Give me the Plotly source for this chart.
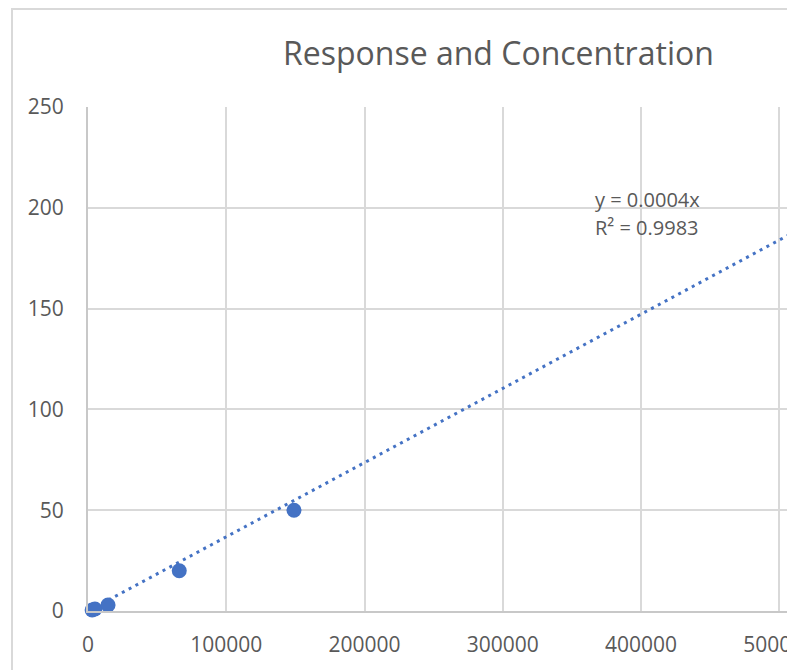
import plotly.graph_objects as go

# Data
concentration = [3000, 5000, 14500, 66000, 149000]
response = [0.5, 1.0, 3.0, 20.0, 50.0]
trend_slope = 0.000368          # slope of the dotted trendline (label: y = 0.0004x)
trend_label = ["y = 0.0004x", "R² = 0.9983"]
x_ticks = [0, 100000, 200000, 300000, 400000, 500000]
y_ticks = [0, 50, 100, 150, 200, 250]
x_max = 505600
y_max = 250
title_text = "Response and Concentration"

BLUE = "#4472C4"
GRID = "#d9d9d9"
TXT = "#595959"
FONT = "Open Sans"

trend_x = [0, x_max * 1.1]
trend_y = [trend_slope * v for v in trend_x]

fig = go.Figure()
fig.add_trace(go.Scatter(
    x=trend_x, y=trend_y, mode="lines",
    line=dict(color=BLUE, width=3, dash="3px,4.7px"),
    hoverinfo="skip", showlegend=False,
))
fig.add_trace(go.Scatter(
    x=concentration, y=response, mode="markers",
    marker=dict(color=BLUE, size=15),
    cliponaxis=False, showlegend=False,
))

fig.update_layout(
    width=795, height=670,
    margin=dict(l=80, r=16, t=99, b=67),
    paper_bgcolor="white", plot_bgcolor="white",
    font=dict(family=FONT, color=TXT, size=21),
    showlegend=False,
)
fig.update_xaxes(
    range=[0, x_max], tickvals=x_ticks, tickformat="d",
    showgrid=True, gridcolor=GRID, gridwidth=2,
    showline=True, linecolor="#c8c8c8", linewidth=2,
    zeroline=False, ticks="", ticklabelstandoff=14,
    ticklabeloverflow="allow", automargin=False,
    tickfont=dict(family=FONT, size=21, color=TXT),
)
fig.update_yaxes(
    range=[0, y_max], tickvals=y_ticks,
    showgrid=True, gridcolor=GRID, gridwidth=2,
    showline=True, linecolor="#c8c8c8", linewidth=2,
    zeroline=False, ticks="", ticklabelstandoff=18,
    automargin=False,
    tickfont=dict(family=FONT, size=21, color=TXT),
)

# outer chart border (cropped at right/bottom)
fig.add_shape(type="rect", xref="paper", yref="paper",
              x0=-0.1087, x1=1.3, y0=-0.3, y1=1.1944,
              line=dict(color=GRID, width=2), fillcolor="rgba(0,0,0,0)", layer="below")
# crop mask at the right edge
fig.add_shape(type="rect", xref="paper", yref="paper",
              x0=1.0, x1=1.3, y0=-0.3, y1=1.3,
              line=dict(width=0), fillcolor="white", layer="above")

fig.add_annotation(text=title_text, xref="paper", yref="paper",
                   x=0.5866, y=1.109, xanchor="center", yanchor="middle",
                   showarrow=False, font=dict(family=FONT, size=32, color=TXT))
for i, line in enumerate(trend_label):
    fig.add_annotation(text=line, xref="paper", yref="paper",
                       x=(593 - 88) / 699, y=1 + (107 - (184 + 28 * i)) / 504,
                       xanchor="left", yanchor="top", align="left",
                       showarrow=False, font=dict(family=FONT, size=20, color=TXT))

fig.write_html("out.html")
